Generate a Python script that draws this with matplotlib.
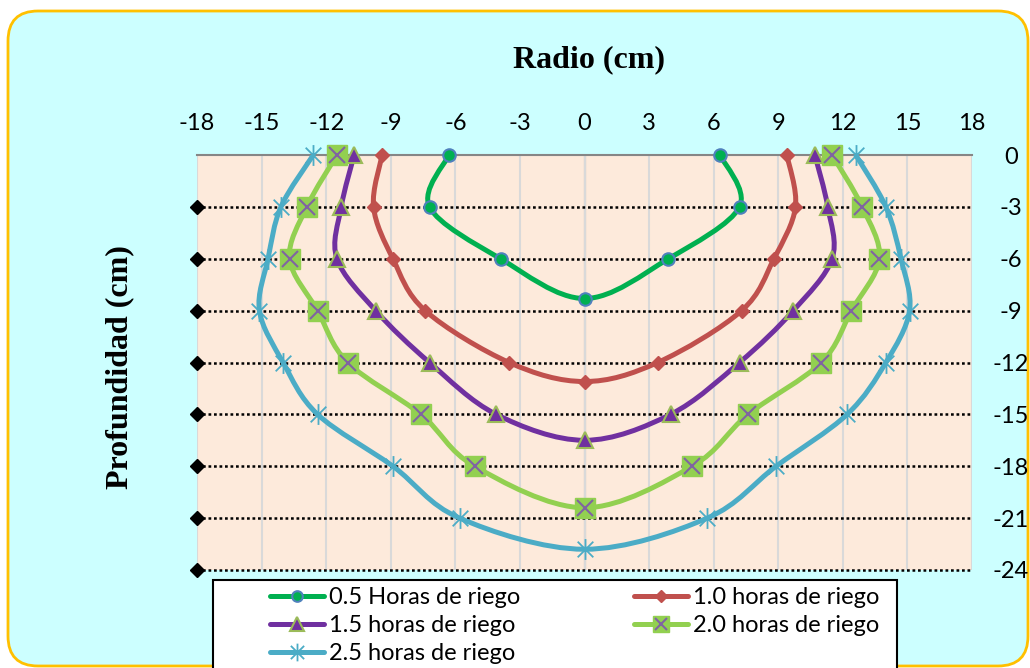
import numpy as np
import matplotlib.pyplot as plt
from matplotlib.path import Path
from matplotlib.patches import PathPatch, FancyBboxPatch, Rectangle
from matplotlib.lines import Line2D
from matplotlib.transforms import IdentityTransform


# radio (cm) y profundidad (cm) de cada frente de humedecimiento
x_05 = [-6.3, -7.2, -3.9, 0.0, 3.9, 7.2, 6.3]
y_05 = [0, -3, -6, -8.3, -6, -3, 0]

x_10 = [-9.4, -9.8, -8.9, -7.4, -3.5, 0.0, 3.4, 7.3, 8.8, 9.8, 9.4]
y_10 = [0, -3, -6, -9, -12, -13.1, -12, -9, -6, -3, 0]

x_15 = [-10.7, -11.3, -11.5, -9.7, -7.2, -4.1, 0.0, 4.0, 7.2, 9.7, 11.5, 11.3, 10.7]
y_15 = [0, -3, -6, -9, -12, -15, -16.5, -15, -12, -9, -6, -3, 0]

x_20 = [-11.5, -12.9, -13.7, -12.4, -11.0, -7.6, -5.1, 0.0,
        5.0, 7.6, 11.0, 12.4, 13.7, 12.9, 11.5]
y_20 = [0, -3, -6, -9, -12, -15, -18, -20.4, -18, -15, -12, -9, -6, -3, 0]

x_25 = [-12.6, -14.1, -14.7, -15.1, -14.0, -12.4, -8.9, -5.8, 0.0,
        5.7, 8.9, 12.2, 14.0, 15.1, 14.7, 14.0, 12.6]
y_25 = [0, -3, -6, -9, -12, -15, -18, -21, -22.8,
        -21, -18, -15, -12, -9, -6, -3, 0]

labels = ['0.5 Horas de riego', '1.0 horas de riego', '1.5 horas de riego',
          '2.0 horas de riego', '2.5 horas de riego']

x_ticks = list(range(-18, 19, 3))
depths = list(range(-3, -25, -3))
y_ticks = list(range(0, -25, -3))

plt.rcParams['font.family'] = ['Lato', 'DejaVu Sans']
plt.rcParams['axes.unicode_minus'] = False


def smooth_path(xs, ys):
    """Curva suavizada (Catmull-Rom en forma de Bezier) por los puntos"""
    pts = np.column_stack([xs, ys]).astype(float)
    n = len(pts)
    verts = [pts[0]]
    codes = [Path.MOVETO]
    for i in range(n - 1):
        p0 = pts[max(i - 1, 0)]
        p1 = pts[i]
        p2 = pts[i + 1]
        p3 = pts[min(i + 2, n - 1)]
        verts += [p1 + (p2 - p0) / 6, p2 - (p3 - p1) / 6, p2]
        codes += [Path.CURVE4] * 3
    return Path(verts, codes)


# marcador tipo asterisco: vertical mas dos diagonales
star = Path([(0, -1), (0, 1), (-0.75, -0.75), (0.75, 0.75), (-0.75, 0.75), (0.75, -0.75)],
            [Path.MOVETO, Path.LINETO] * 3)

LW = 3.6
FS = 17

styles = [
    dict(color='#00B050', marker='o', ms=9, mfc='#00B050', mec='#4F81BD', mew=1.5),
    dict(color='#C0504D', marker='D', ms=7, mfc='#C0504D', mec='#C0504D', mew=1),
    dict(color='#7030A0', marker='^', ms=12, mfc='#7030A0', mec='#9BBB59', mew=1.5),
    dict(color='#92D050', marker='s', ms=14, mfc='#92D050', mec='#92D050', mew=1),
    dict(color='#4BACC6', marker=star, ms=15, mfc='none', mec='#4BACC6', mew=1.3),
]
series = [(x_05, y_05), (x_10, y_10), (x_15, y_15), (x_20, y_20), (x_25, y_25)]

fig = plt.figure(figsize=(10.30, 6.68), dpi=100)
fig.patch.set_facecolor('white')
fig.patches.append(FancyBboxPatch(
    (8, 2), 1020, 655, boxstyle='round,pad=0,rounding_size=30',
    facecolor='#CCFFFF', edgecolor='#FFC000', linewidth=2,
    transform=IdentityTransform(), zorder=-10
))

ax = fig.add_axes([197 / 1030, 1 - 570 / 668, 775 / 1030, 415 / 668])
ax.set_facecolor('#FDEADB')
ax.set_xlim(-18, 18)
ax.set_ylim(-24, 0)

for side in ['left', 'right', 'bottom']:
    ax.spines[side].set_visible(False)
ax.spines['top'].set_color('#868686')
ax.spines['top'].set_linewidth(1.5)

ax.set_xticks(x_ticks)
ax.grid(axis='x', color='#D9D9D9', linewidth=1.5)
ax.axvline(0, color='#868686', linewidth=1.5, zorder=1.5)
ax.xaxis.tick_top()
ax.yaxis.tick_right()
ax.set_yticks(y_ticks)
ax.set_yticklabels([str(v) for v in y_ticks])
ax.tick_params(axis='x', length=0, pad=15, labelsize=FS)
ax.tick_params(axis='y', length=0, pad=28, labelsize=FS)
for lbl in ax.get_yticklabels():
    lbl.set_horizontalalignment('center')

# lineas punteadas de profundidad con rombo en el extremo izquierdo
for d in depths:
    ax.plot([-18, 18], [d, d], color='black', linestyle=(0, (1.1, 1.1)),
            linewidth=1.8, marker='D', markersize=7.5, markevery=[0],
            clip_on=False, zorder=2)

handles = []
for (xs, ys), st in zip(series, styles):
    ax.add_patch(PathPatch(smooth_path(xs, ys), fill=False, edgecolor=st['color'],
                           linewidth=LW, capstyle='round', zorder=3))
    ax.plot(xs, ys, linestyle='none', marker=st['marker'], markersize=st['ms'],
            markerfacecolor=st['mfc'], markeredgecolor=st['mec'],
            markeredgewidth=st['mew'], clip_on=False, zorder=4)
    h = Line2D([], [], color=st['color'], linewidth=LW, marker=st['marker'],
               markersize=st['ms'] * 0.85, markerfacecolor=st['mfc'],
               markeredgecolor=st['mec'], markeredgewidth=st['mew'],
               solid_capstyle='round')
    handles.append(h)

# aspa morada sobre los cuadrados de 2.0 h
ax.plot(x_20, y_20, linestyle='none', marker='x', markersize=11,
        markeredgecolor='#8064A2', markeredgewidth=1.5, clip_on=False, zorder=5)
handles[3] = (handles[3], Line2D([], [], linestyle='none', marker='x', markersize=9,
                                 markeredgecolor='#8064A2', markeredgewidth=1.5))

# recuadro blanco de la leyenda (se corta en el borde inferior)
fig.patches.append(Rectangle((213, -10), 684, 98, facecolor='white',
                             edgecolor='black', linewidth=1.5,
                             transform=IdentityTransform(), zorder=-5))

order = [0, 2, 4, 1, 3]
leg = fig.legend([handles[i] for i in order], [labels[i] for i in order],
                 loc='upper left', bbox_to_anchor=(270 / 1030, 1 - 587 / 668),
                 ncol=2, fontsize=FS, frameon=False, handlelength=2.3,
                 handletextpad=0.2, labelspacing=0.3, borderpad=0,
                 borderaxespad=0, columnspacing=4.8)

fig.text(589 / 1030, 1 - 60 / 668, 'Radio (cm)', family='Liberation Serif',
         weight='bold', fontsize=23, ha='center', va='center')
fig.text(120 / 1030, 1 - 367 / 668, 'Profundidad (cm)', family='Liberation Serif',
         weight='bold', fontsize=23, rotation=90, ha='center', va='center')

fig.savefig('out.png', dpi=100)
